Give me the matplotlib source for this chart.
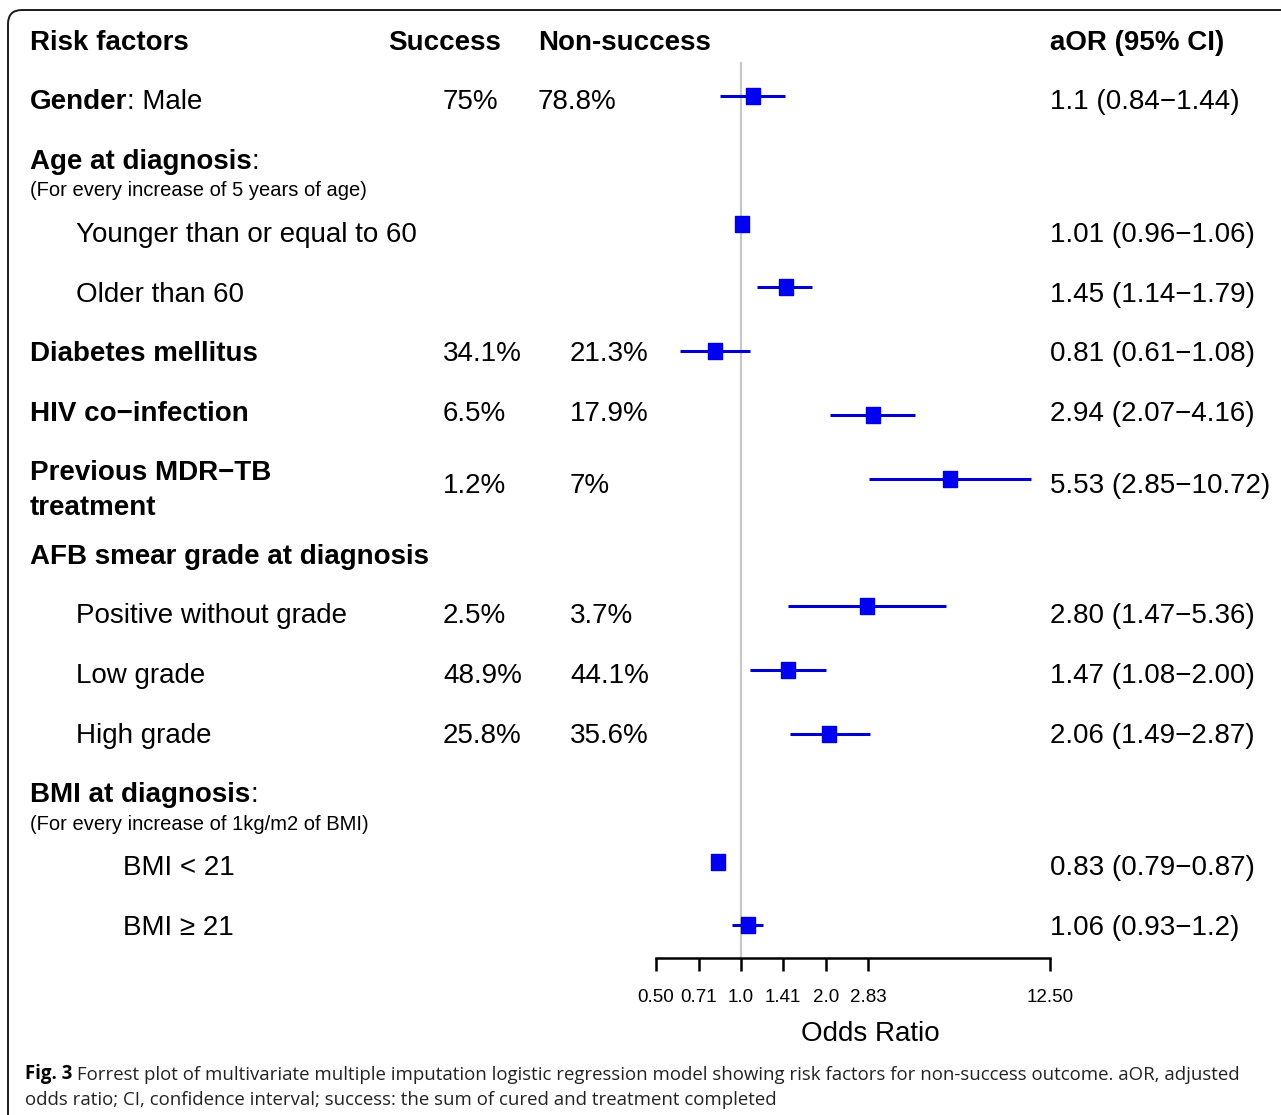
import matplotlib
matplotlib.use("Agg")
import matplotlib.pyplot as plt
from matplotlib.patches import FancyBboxPatch
from matplotlib.path import Path

plt.rcParams["font.family"] = ["Liberation Sans", "DejaVu Sans"]

W, H, DPI = 1281, 1115, 100

# ---------------- data ----------------
row_labels = ["Gender", "Age at diagnosis", "Younger than or equal to 60", "Older than 60",
              "Diabetes mellitus", "HIV co−infection", "Previous MDR−TB",
              "AFB smear grade at diagnosis", "Positive without grade", "Low grade",
              "High grade", "BMI at diagnosis", "BMI < 21", "BMI ≥ 21"]
row_label_tail = [": Male", ":", "", "", "", "", "", "", "", "", "", ":", "", ""]
row_label_line2 = ["", "", "", "", "", "", "treatment", "", "", "", "", "", "", ""]
row_level = [0, 0, 1, 1, 0, 0, 0, 0, 1, 1, 1, 0, 2, 2]
row_notes = ["", "(For every increase of 5 years of age)", "", "", "", "", "", "", "", "",
             "", "(For every increase of 1kg/m2 of BMI)", "", ""]
success_pct = ["75%", "", "", "", "34.1%", "6.5%", "1.2%", "", "2.5%", "48.9%",
               "25.8%", "", "", ""]
nonsuccess_pct = ["78.8%", "", "", "", "21.3%", "17.9%", "7%", "", "3.7%", "44.1%",
                  "35.6%", "", "", ""]
or_est = ["1.1", "", "1.01", "1.45", "0.81", "2.94", "5.53", "", "2.80", "1.47",
          "2.06", "", "0.83", "1.06"]
or_lo = ["0.84", "", "0.96", "1.14", "0.61", "2.07", "2.85", "", "1.47", "1.08",
         "1.49", "", "0.79", "0.93"]
or_hi = ["1.44", "", "1.06", "1.79", "1.08", "4.16", "10.72", "", "5.36", "2.00",
         "2.87", "", "0.87", "1.2"]
x_ticks = [0.50, 0.71, 1.0, 1.41, 2.0, 2.83, 12.50]
x_tick_labels = ["0.50", "0.71", "1.0", "1.41", "2.0", "2.83", "12.50"]
headers = ["Risk factors", "Success", "Non-success", "aOR (95% CI)"]
caption_bold = "Fig. 3"
caption_rest = (" Forrest plot of multivariate multiple imputation logistic regression model "
                "showing risk factors for non-success outcome. aOR, adjusted")
caption_line2 = "odds ratio; CI, confidence interval; success: the sum of cured and treatment completed"

# ---------------- layout (pixels) ----------------
level_x = [30, 76, 123]
label_y = [102, 162, 235, 295, 354, 414, 473, 557, 616, 676, 736, 795, 868, 928]
value_y = [102, 162, 235, 295, 354, 414, 486, 557, 616, 676, 736, 795, 868, 928]
line2_dy = 35
note_dy = 29
header_y = 43
header_x = [30, 388, 538, 1050]
success_x = 443
nonsuccess_x = [538] + [570] * 13
aor_x = 1050
FS = 20

fig = plt.figure(figsize=(W / DPI, H / DPI), dpi=DPI)
fig.patch.set_facecolor("white")

bg = fig.add_axes([0, 0, 1, 1])
bg.set_xlim(0, W)
bg.set_ylim(H, 0)
bg.axis("off")

# outer frame
bg.add_patch(FancyBboxPatch((8, 10), 1400, 1200,
                            boxstyle="round,pad=0,rounding_size=14",
                            fc="none", ec="#1a1a1a", lw=1.4))

# column headers
for x, s in zip(header_x, headers):
    bg.text(x, header_y, s, fontsize=FS, fontweight="bold", va="center", ha="left")

# table rows
for i, lab in enumerate(row_labels):
    x = level_x[row_level[i]]
    y = label_y[i]
    bold = row_level[i] == 0
    t = bg.text(x, y, lab, fontsize=FS, fontweight="bold" if bold else "normal",
                va="center", ha="left")
    if row_label_tail[i]:
        bg.annotate(row_label_tail[i], xy=(1, 0), xycoords=t, fontsize=FS,
                    va="bottom", ha="left")
    if row_label_line2[i]:
        bg.text(x, y + line2_dy, row_label_line2[i], fontsize=FS, fontweight="bold",
                va="center", ha="left")
    if row_notes[i]:
        bg.text(x, y + note_dy, row_notes[i], fontsize=14.5, va="center", ha="left")
    if success_pct[i]:
        bg.text(success_x, value_y[i], success_pct[i], fontsize=FS, va="center", ha="left")
    if nonsuccess_pct[i]:
        bg.text(nonsuccess_x[i], value_y[i], nonsuccess_pct[i], fontsize=FS,
                va="center", ha="left")
    if or_est[i]:
        bg.text(aor_x, value_y[i], f"{or_est[i]} ({or_lo[i]}−{or_hi[i]})",
                fontsize=FS, va="center", ha="left")

# ---------------- forest panel ----------------
px_l, px_r, px_t, px_b = 656, 1050, 62, 958
row0, step = 96, 63.8
ax = fig.add_axes([px_l / W, 1 - px_b / H, (px_r - px_l) / W, (px_b - px_t) / H])
ax.set_facecolor("none")
ax.set_xscale("log", base=2)
ax.set_xlim(0.5, 12.5)
ax.set_ylim((px_b - row0) / step, (px_t - row0) / step)

ax.axvline(1.0, color="#c8c8c8", lw=1.6, zorder=0)

box = Path([(-0.43, -0.5), (0.43, -0.5), (0.43, 0.5), (-0.43, 0.5), (-0.43, -0.5)],
           [Path.MOVETO, Path.LINETO, Path.LINETO, Path.LINETO, Path.CLOSEPOLY])
for i in range(len(row_labels)):
    if not or_est[i]:
        continue
    est, lo, hi = float(or_est[i]), float(or_lo[i]), float(or_hi[i])
    ax.hlines(i, lo, hi, color="#0000cc", lw=2.2, zorder=2, clip_on=False)
    ax.plot([est], [i], marker=box, ms=11, color="#0000f5", mec="#0000e0",
            ls="none", zorder=3, clip_on=False)

for side in ("top", "left", "right"):
    ax.spines[side].set_visible(False)
ax.spines["bottom"].set_bounds(0.5, 12.5)
ax.spines["bottom"].set_linewidth(1.8)
ax.set_yticks([])
ax.set_xticks(x_ticks)
ax.set_xticklabels(x_tick_labels)
ax.minorticks_off()
ax.tick_params(axis="x", direction="out", length=9, width=1.8, pad=13, labelsize=13.5)

bg.text(870, 1034, "Odds Ratio", fontsize=FS, va="center", ha="center")

# ---------------- caption ----------------
cap_font = ["Open Sans", "DejaVu Sans"]
CFS = 13.4
c1 = bg.text(25, 1074, caption_bold, fontsize=CFS, fontweight="bold", family=cap_font,
             va="center", ha="left")
bg.annotate(caption_rest, xy=(1, 0), xycoords=c1, fontsize=CFS, family=cap_font,
            va="bottom", ha="left", color="#222222")
bg.text(25, 1100, caption_line2, fontsize=CFS, family=cap_font, va="center", ha="left",
        color="#222222")

fig.savefig("out.png", dpi=DPI, facecolor="white")
